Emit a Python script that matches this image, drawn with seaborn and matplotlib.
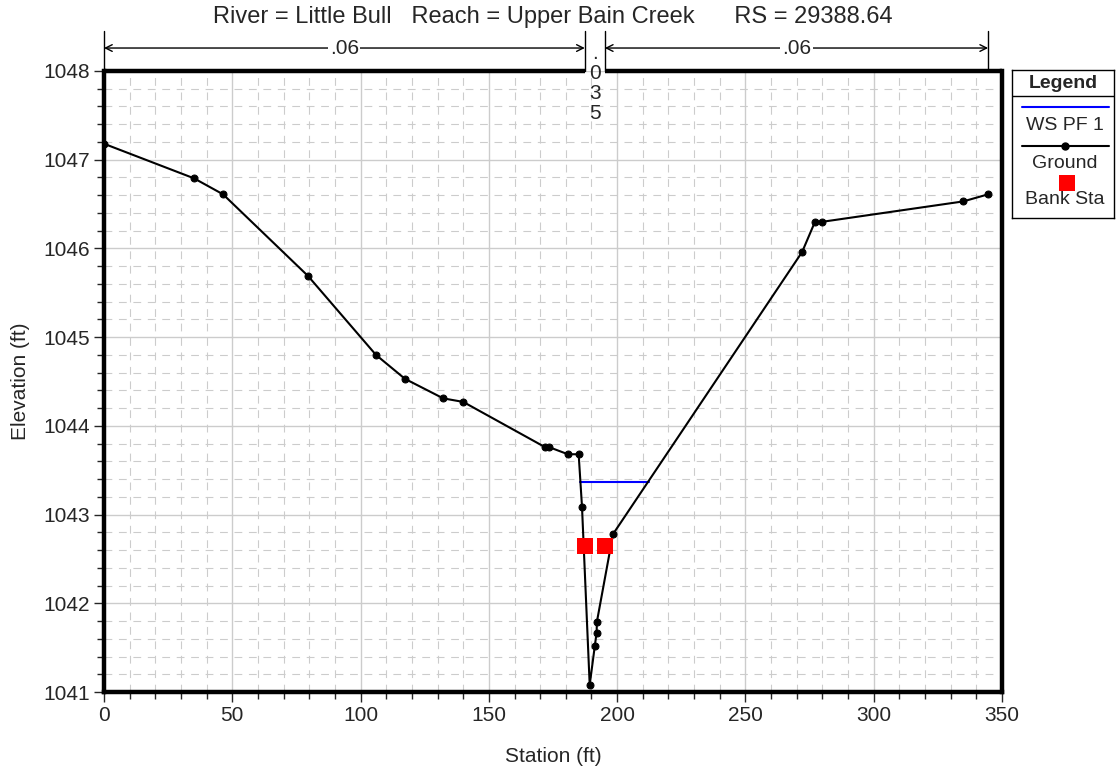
import numpy as np
import matplotlib
matplotlib.use("Agg")
import matplotlib.pyplot as plt
import matplotlib.transforms as mtransforms
from matplotlib.ticker import MultipleLocator
from matplotlib.lines import Line2D
import seaborn as sns

# --- cross-section data (HEC-RAS, RS 29388.64) -------------------------------
ground_sta = [0, 35.1, 46.4, 79.5, 106.0, 117.3, 132.2, 140.0, 171.9, 173.5,
              180.8, 185.0, 186.3, 189.3, 191.3, 192.0, 192.1, 198.4, 272.1,
              277.1, 279.9, 334.9, 344.6]
ground_elev = [1047.18, 1046.79, 1046.61, 1045.69, 1044.80, 1044.53, 1044.31,
               1044.27, 1043.76, 1043.76, 1043.68, 1043.68, 1043.09, 1041.08,
               1041.52, 1041.67, 1041.79, 1042.78, 1045.96, 1046.30, 1046.30,
               1046.53, 1046.61]
ws_sta = [185.7, 212.4]
ws_elev = [1043.37, 1043.37]
bank_sta = [187.4, 195.2]
bank_elev = [1042.65, 1042.65]
n_labels = [".06", ".035", ".06"]
n_breaks = [0, 187.4, 195.2, 344.6]

TITLE = "River = Little Bull   Reach = Upper Bain Creek      RS = 29388.64"

sns.set_style("white")
plt.rcParams["font.family"] = ["Liberation Sans", "DejaVu Sans"]

fig = plt.figure(figsize=(11.19, 7.71), dpi=100)
ax = fig.add_axes([104 / 1119, 79 / 771, 898 / 1119, 621 / 771])

grid_c = "#cccccc"
sns.lineplot(x=ws_sta, y=ws_elev, color="blue", lw=1.5, ax=ax, zorder=3)
sns.lineplot(x=ground_sta, y=ground_elev, sort=False, estimator=None,
             color="black", lw=1.5, marker="o", markersize=5,
             markeredgecolor="black", ax=ax, zorder=4)
sns.scatterplot(x=bank_sta, y=bank_elev, marker="s", s=135, color="red",
                edgecolor="none", ax=ax, zorder=5)

ax.set_xlim(0, 350)
ax.set_ylim(1041, 1048)
ax.xaxis.set_major_locator(MultipleLocator(50))
ax.xaxis.set_minor_locator(MultipleLocator(10))
ax.yaxis.set_major_locator(MultipleLocator(1))
ax.yaxis.set_minor_locator(MultipleLocator(0.2))
ax.grid(which="major", color=grid_c, lw=1, ls="-", zorder=0)
ax.grid(which="minor", color=grid_c, lw=0.8, ls=(0, (7, 6)), zorder=0)
ax.set_axisbelow(True)
ax.tick_params(which="major", direction="out", length=7, width=1,
               labelsize=15, pad=3, bottom=True, left=True)
ax.tick_params(which="minor", direction="out", length=5, width=1,
               bottom=True, left=True)
ax.set_xlabel("Station (ft)", fontsize=15, labelpad=16)
ax.set_ylabel("Elevation (ft)", fontsize=15, labelpad=10)

for side in ("left", "bottom", "right"):
    ax.spines[side].set_linewidth(3.2)
    ax.spines[side].set_color("black")
ax.spines["top"].set_visible(False)

# broken top border + Manning's n annotations
tr = mtransforms.blended_transform_factory(ax.transData, ax.transAxes)
ax.plot([0, n_breaks[1]], [1, 1], transform=tr, color="black", lw=3.2,
        clip_on=False, solid_capstyle="butt", zorder=6)
ax.plot([n_breaks[2], 350], [1, 1], transform=tr, color="black", lw=3.2,
        clip_on=False, solid_capstyle="butt", zorder=6)
for b in n_breaks:
    ax.plot([b, b], [1, 1.064], transform=tr, color="black", lw=1,
            clip_on=False)
for (x0, x1), lab in zip([(n_breaks[0], n_breaks[1]), (n_breaks[2], n_breaks[3])],
                         [n_labels[0], n_labels[2]]):
    ax.annotate("", xy=(x0, 1.037), xytext=(x1, 1.037), xycoords=tr,
                textcoords=tr,
                arrowprops=dict(arrowstyle="<->", lw=1, color="black",
                                shrinkA=0, shrinkB=0, mutation_scale=12))
    ax.text((x0 + x1) / 2, 1.037, lab, transform=tr, ha="center",
            va="center", fontsize=15,
            bbox=dict(facecolor="white", edgecolor="none", pad=1))
ax.text((n_breaks[1] + n_breaks[2]) / 2, 1.043, "\n".join(n_labels[1]),
        transform=tr, ha="center", va="top", fontsize=15, linespacing=1.05,
        zorder=7)

fig.text((104 + 1002) / 2 / 1119, 1 - 17 / 771, TITLE, ha="center",
         va="center", fontsize=17)

# legend box (HEC-RAS style, labels under symbols)
lax = fig.add_axes([1012 / 1119, (771 - 218) / 771, 102 / 1119, 148 / 771])
lax.set_xlim(0, 102)
lax.set_ylim(148, 0)
lax.set_xticks([])
lax.set_yticks([])
for s in lax.spines.values():
    s.set_linewidth(1)
    s.set_color("black")
lax.text(51, 13, "Legend", ha="center", va="center", fontsize=14,
         fontweight="bold")
lax.axhline(26, color="black", lw=1)
lax.add_line(Line2D([10, 97], [37, 37], color="blue", lw=1.5))
lax.text(53, 55, "WS PF 1", ha="center", va="center", fontsize=14)
lax.add_line(Line2D([10, 97], [76, 76], color="black", lw=1.5))
lax.plot([53], [76], "o", color="black", markersize=5)
lax.text(53, 93, "Ground", ha="center", va="center", fontsize=14)
lax.plot([55], [113], "s", color="red", markersize=11.5, markeredgewidth=0)
lax.text(53, 130, "Bank Sta", ha="center", va="center", fontsize=14)

fig.savefig("out.png", dpi=100)
